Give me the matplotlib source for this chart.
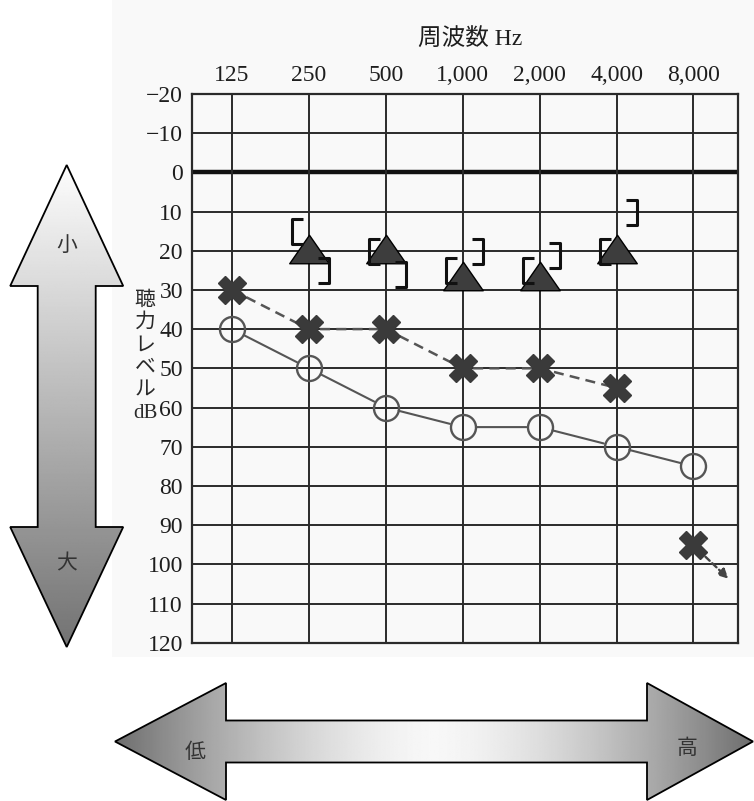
import numpy as np
import matplotlib
matplotlib.use("Agg")
import matplotlib.pyplot as plt
from matplotlib.path import Path
from matplotlib.patches import Polygon, Rectangle
from matplotlib.transforms import offset_copy

# ---------------- data ----------------
freq_labels = ["125", "250", "500", "1,000", "2,000", "4,000", "8,000"]
db_ticks = list(range(-20, 121, 10))
db_tick_labels = ["\u221220", "\u221210"] + [str(v) for v in range(0, 121, 10)]

air_o = [40, 50, 60, 65, 65, 70, 75]          # ○ solid line
air_x = [30, 40, 40, 50, 50, 55]              # ✖ dashed line (125-4000)
air_x_scaleout = 95                           # ✖ at 8000 with arrow
tri_freq_idx = [1, 2, 3, 4, 5]
tri_vals = [19.5, 19.5, 26.5, 26.5, 19.5]     # ▲
lbr_vals = [15, 20, 25, 25, 20]               # [
rbr_vals = [25, 26, 20, 21, 10]               # ]

title_text = "周波数 Hz"
ylabel_chars = ["聴", "力", "レ", "ベ", "ル", "dB"]

W, H = 754, 801
fig = plt.figure(figsize=(W / 100, H / 100), dpi=100)
fig.patch.set_facecolor("white")

SERIF = ["Liberation Serif", "Noto Sans CJK JP"]
CJK = ["Noto Sans CJK JP", "DejaVu Sans"]

# ---------------- background axes (pixel coords) ----------------
bg = fig.add_axes([0, 0, 1, 1], zorder=0)
bg.set_xlim(0, W)
bg.set_ylim(H, 0)
bg.axis("off")
bg.add_patch(Rectangle((112, 0), W - 112, 657, facecolor="#f9f9f9", edgecolor="none"))

# vertical double arrow
cx = 66.7
vpts = [(cx, 165), (cx + 56.5, 286), (cx + 29, 286), (cx + 29, 527), (cx + 56.5, 527),
        (cx, 647), (cx - 56.5, 527), (cx - 29, 527), (cx - 29, 286), (cx - 56.5, 286)]
vpoly = Polygon(vpts, closed=True, facecolor="none", edgecolor="black", lw=1.3, zorder=3)
bg.add_patch(vpoly)
grad_v = np.linspace(0.99, 0.45, 300).reshape(-1, 1)
im = bg.imshow(grad_v, cmap="gray", vmin=0, vmax=1, extent=[cx - 57, cx + 57, 647, 165],
               aspect="auto", zorder=2, interpolation="bilinear")
im.set_clip_path(vpoly)

# horizontal double arrow
cy = 741.5
hpts = [(115, cy), (226, cy - 58.5), (226, cy - 21), (647, cy - 21), (647, cy - 58.5),
        (753, cy), (647, cy + 58.5), (647, cy + 21), (226, cy + 21), (226, cy + 58.5)]
hpoly = Polygon(hpts, closed=True, facecolor="none", edgecolor="black", lw=1.3, zorder=3)
bg.add_patch(hpoly)
xs = np.linspace(115, 753, 600)
d = np.abs(xs - 434) / 319.0
grad_h = (0.97 - 0.54 * d ** 1.5).reshape(1, -1)
im2 = bg.imshow(grad_h, cmap="gray", vmin=0, vmax=1, extent=[115, 753, cy + 59, cy - 59],
                aspect="auto", zorder=2, interpolation="bilinear")
im2.set_clip_path(hpoly)
bg.set_xlim(0, W)
bg.set_ylim(H, 0)

for s, (x, y) in zip(["小", "大", "低", "高"], [(66.7, 245), (66.7, 563), (195, 752), (687, 748)]):
    bg.text(x, y, s, ha="center", va="center", fontsize=15, color="#333333", family=CJK, zorder=4)

# y label (vertical stacked)
for i, ch in enumerate(ylabel_chars):
    bg.text(145, 301 + 22.5 * i, ch, ha="center", va="center", fontsize=15,
            color="#2a2a2a", family=SERIF, zorder=4)

# title
bg.text(470, 40, title_text, ha="center", va="center", fontsize=17, color="#1e1e1e",
        family=SERIF, zorder=4)

# ---------------- audiogram axes ----------------
L, R, T, B = 192, 737.7, 93.9, 642.7
ax = fig.add_axes([L / W, 1 - B / H, (R - L) / W, (B - T) / H], zorder=2)
ax.set_facecolor("#f9f9f9")
ax.set_xlim(-0.52, 6.576)
ax.set_ylim(120, -20)

xi = np.arange(len(freq_labels))
for v in db_ticks[1:-1]:
    ax.axhline(v, color="#111111" if v == 0 else "#2a2a2a", lw=3.2 if v == 0 else 1.4, zorder=1)
for x in xi:
    ax.axvline(x, color="#2a2a2a", lw=1.4, zorder=1)
for sp in ax.spines.values():
    sp.set_color("#2a2a2a")
    sp.set_linewidth(1.6)

ax.set_yticks(db_ticks)
ax.set_yticklabels(db_tick_labels, family=SERIF, fontsize=17, color="#1e1e1e")
ax.set_xticks(xi)
ax.set_xticklabels(freq_labels, family=SERIF, fontsize=17, color="#1e1e1e")
ax.xaxis.tick_top()
ax.tick_params(axis="x", length=0, pad=6)
ax.tick_params(axis="y", length=0, pad=6.5)

gray = "#555555"
dark = "#3a3a3a"

# ○ markers and shortened connecting segments
ax.plot(xi, air_o, linestyle="none", marker="o", markersize=18, markerfacecolor="none",
        markeredgecolor=gray, markeredgewidth=1.7, zorder=4)
for i in range(len(air_o) - 1):
    ax.annotate("", xy=(xi[i + 1], air_o[i + 1]), xytext=(xi[i], air_o[i]),
                arrowprops=dict(arrowstyle="-", color=gray, lw=1.5, shrinkA=9.5, shrinkB=9.5),
                zorder=3)

# ✖ dashed line and markers
xi_x = xi[:len(air_x)]
ax.plot(xi_x, air_x, linestyle=(0, (4, 2.5)), color=gray, lw=1.8, zorder=3)
ax.plot(list(xi_x) + [xi[6]], air_x + [air_x_scaleout], linestyle="none", marker="X",
        markersize=20, markerfacecolor=dark, markeredgecolor=dark, markeredgewidth=1.0, zorder=5)
# scale-out arrow at 8000
head_tr = offset_copy(ax.transData, fig=fig, x=35, y=-34, units="dots")
tail_tr = offset_copy(ax.transData, fig=fig, x=12, y=-12, units="dots")
ax.annotate("", xy=(xi[6], air_x_scaleout), xycoords=head_tr,
            xytext=(xi[6], air_x_scaleout), textcoords=tail_tr,
            arrowprops=dict(arrowstyle="-|>", color="#444444", lw=1.7, linestyle=(0, (2.5, 1.5)),
                            mutation_scale=14, shrinkA=0, shrinkB=0), zorder=5)

# ▲ markers
tri_path = Path([(0, 0.72), (-1, -0.72), (1, -0.72), (0, 0.72)],
                [Path.MOVETO, Path.LINETO, Path.LINETO, Path.CLOSEPOLY])
ax.plot([xi[k] for k in tri_freq_idx], tri_vals, linestyle="none", marker=tri_path,
        markersize=28.5, markerfacecolor="#3d3d3d", markeredgecolor="black",
        markeredgewidth=1.0, zorder=6)

# brackets
lbr_path = Path([(0.9, 1), (0, 1), (0, -1), (0.9, -1)],
                [Path.MOVETO, Path.LINETO, Path.LINETO, Path.LINETO])
rbr_path = Path([(-0.9, 1), (0, 1), (0, -1), (-0.9, -1)],
                [Path.MOVETO, Path.LINETO, Path.LINETO, Path.LINETO])
ltr = offset_copy(ax.transData, fig=fig, x=-17, y=0, units="dots")
rtr = offset_copy(ax.transData, fig=fig, x=20, y=0, units="dots")
ax.plot([xi[k] for k in tri_freq_idx], lbr_vals, linestyle="none", marker=lbr_path,
        markersize=18, markerfacecolor="none", markeredgecolor="#111111",
        markeredgewidth=2.2, transform=ltr, zorder=6, clip_on=False)
ax.plot([xi[k] for k in tri_freq_idx], rbr_vals, linestyle="none", marker=rbr_path,
        markersize=18, markerfacecolor="none", markeredgecolor="#111111",
        markeredgewidth=2.2, transform=rtr, zorder=6, clip_on=False)

fig.savefig("out.png", dpi=100, facecolor="white")
